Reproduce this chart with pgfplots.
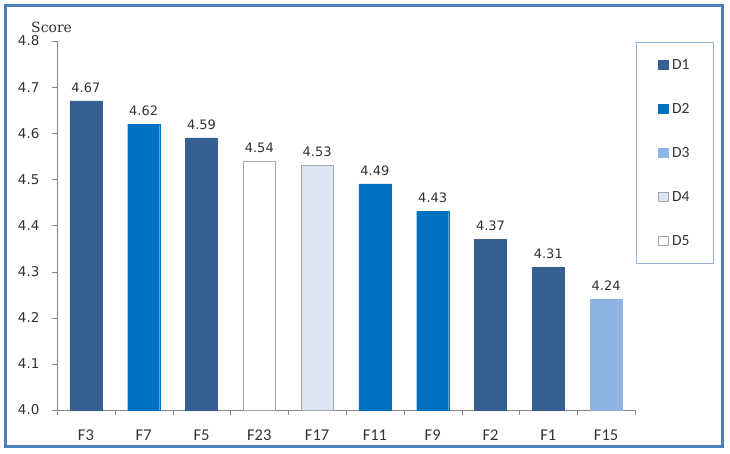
\documentclass[border=0pt]{standalone}
\usepackage{pgfplots}
\pgfplotsset{compat=1.18}
\usepackage{fontspec}
\setmainfont{DejaVu Sans}
\newfontfamily\calib{Carlito}
\newfontfamily\serf{DejaVu Serif}
\definecolor{dA}{HTML}{376092}
\definecolor{dB}{HTML}{0070C0}
\definecolor{dC}{HTML}{8EB4E3}
\definecolor{dD}{HTML}{DCE6F2}
\definecolor{bgray}{HTML}{A6A6A6}
\definecolor{axgray}{HTML}{868686}
\definecolor{frameblue}{HTML}{4F81BD}
\definecolor{legblue}{HTML}{95B3D7}
\definecolor{txt}{HTML}{333333}
\begin{document}
\begin{tikzpicture}
\useasboundingbox (0,0) rectangle (730pt,453pt);
\draw[frameblue, line width=3pt] (5.5pt,6.5pt) rectangle (722pt,447.5pt);
\begin{axis}[
  at={(57pt,43pt)}, anchor=south west,
  width=578pt, height=369pt, scale only axis,
  xmin=-0.5, xmax=9.5, ymin=4.0, ymax=4.8,
  axis x line*=bottom, axis y line*=left,
  axis line style={axgray, -},
  /pgf/number format/assume math mode=true,
  ytick={4.0,4.1,4.2,4.3,4.4,4.5,4.6,4.7,4.8},
  yticklabel style={/pgf/number format/fixed, /pgf/number format/fixed zerofill, /pgf/number format/precision=1},
  y tick label style={font=\fontsize{13.5}{13.5}\selectfont, text=txt, xshift=-9pt},
  tick align=outside, major tick length=5pt,
  xtick={0,1,2,3,4,5,6,7,8,9},
  xticklabels={F3,F7,F5,F23,F17,F11,F9,F2,F1,F15},
  x tick label style={font=\calib\fontsize{16.5}{16.5}\selectfont, text=txt, yshift=-11pt},
  major x tick style={draw=none},
  minor xtick={-0.5,0.5,1.5,2.5,3.5,4.5,5.5,6.5,7.5,8.5,9.5},
  minor tick length=5pt,
  tick style={axgray},
  ybar, bar width=32pt, bar shift=0pt,
  clip=false,
  nodes near coords={\pgfmathprintnumber[fixed,fixed zerofill,precision=2]{\pgfplotspointmeta}},
  nodes near coords style={font=\fontsize{13}{13}\selectfont, text=txt, yshift=5pt},
  legend style={at={(1,1)}, anchor=north west, xshift=1pt, yshift=-1pt,
    draw=legblue, font=\calib\fontsize{15.5}{15.5}\selectfont, text=txt,
    row sep=28.5pt, inner xsep=21.5pt, inner ysep=15pt, cells={anchor=west}},
  legend cell align=left,
  legend image code/.code={\draw[#1] (0pt,-4.5pt) rectangle (10pt,4.5pt); \path (12pt,0pt);},
]
\addplot[fill=dA, draw=dA] coordinates {(0,4.67) (2,4.59) (7,4.37) (8,4.31)};
\addlegendentry{D1}
\addplot[fill=dB, draw=dB] coordinates {(1,4.62) (5,4.49) (6,4.43)};
\addlegendentry{D2}
\addplot[fill=dC, draw=dC] coordinates {(9,4.24)};
\addlegendentry{D3}
\addplot[fill=dD, draw=bgray] coordinates {(4,4.53)};
\addlegendentry{D4}
\addplot[fill=white, draw=bgray] coordinates {(3,4.54)};
\addlegendentry{D5}
\node[font=\serf\fontsize{14}{14}\selectfont, anchor=base west, inner sep=0pt, text=txt] at (rel axis cs:0,1) [xshift=-26pt, yshift=9pt] {Score};
\end{axis}
\end{tikzpicture}
\end{document}
